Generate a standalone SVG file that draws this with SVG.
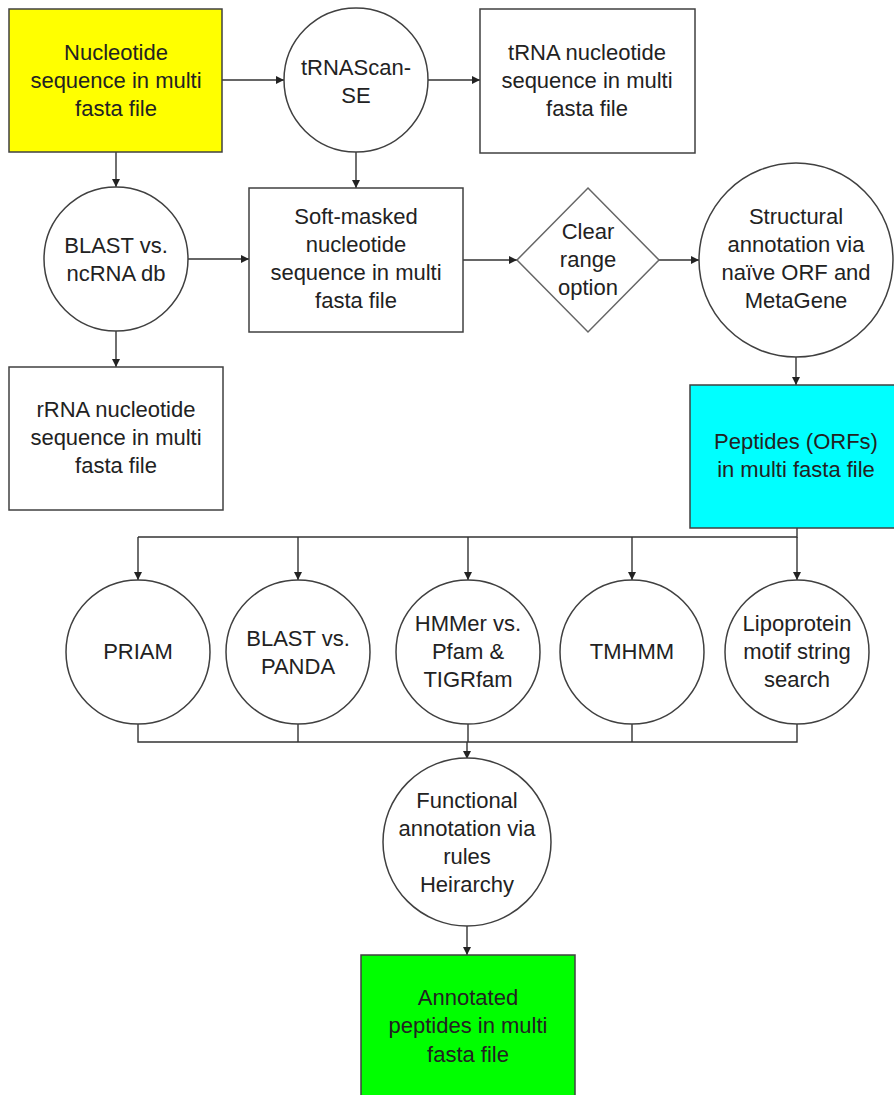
<svg xmlns="http://www.w3.org/2000/svg" width="894" height="1095" viewBox="0 0 894 1095">
<style>
.s{stroke:#404040;stroke-width:1.5;}
.n{fill:#fff;}
text{font-family:"Liberation Sans",Arial,sans-serif;font-size:22px;fill:#222;text-anchor:middle;}
.c{fill:none;stroke:#333;stroke-width:1.4;}
</style>
<defs>
<marker id="a" viewBox="0 0 10 10" refX="10" refY="5" markerWidth="10" markerHeight="8" markerUnits="userSpaceOnUse" orient="auto">
<path d="M0,0 L10,5 L0,10 z" fill="#222"/>
</marker>
</defs>
<rect width="894" height="1095" fill="#fff"/>
<g id="connectors">
<line class="c" x1="222" y1="80" x2="284" y2="80" marker-end="url(#a)"/>
<line class="c" x1="428" y1="80" x2="480" y2="80" marker-end="url(#a)"/>
<line class="c" x1="116" y1="152" x2="116" y2="187" marker-end="url(#a)"/>
<line class="c" x1="356" y1="152" x2="356" y2="188" marker-end="url(#a)"/>
<line class="c" x1="187" y1="259" x2="249" y2="259" marker-end="url(#a)"/>
<line class="c" x1="116" y1="331" x2="116" y2="367" marker-end="url(#a)"/>
<line class="c" x1="462" y1="260" x2="517" y2="260" marker-end="url(#a)"/>
<line class="c" x1="659" y1="260" x2="699" y2="260" marker-end="url(#a)"/>
<line class="c" x1="796" y1="357" x2="796" y2="385" marker-end="url(#a)"/>
<polyline class="c" points="797,528 797,537 138,537"/>
<line class="c" x1="138" y1="537" x2="138" y2="580" marker-end="url(#a)"/>
<line class="c" x1="298" y1="537" x2="298" y2="580" marker-end="url(#a)"/>
<line class="c" x1="468" y1="537" x2="468" y2="580" marker-end="url(#a)"/>
<line class="c" x1="632" y1="537" x2="632" y2="580" marker-end="url(#a)"/>
<line class="c" x1="797" y1="537" x2="797" y2="580" marker-end="url(#a)"/>
<polyline class="c" points="138,724 138,742 797,742 797,724"/>
<line class="c" x1="298" y1="724" x2="298" y2="742"/>
<line class="c" x1="468" y1="724" x2="468" y2="742"/>
<line class="c" x1="632" y1="724" x2="632" y2="742"/>
<line class="c" x1="467" y1="742" x2="467" y2="759" marker-end="url(#a)"/>
<line class="c" x1="467" y1="926" x2="467" y2="955" marker-end="url(#a)"/>
</g>
<g id="nucleotide">
<rect class="s" x="9" y="9" width="213" height="143" fill="#ffff00"/>
<text x="116" y="60">Nucleotide</text>
<text x="116" y="88">sequence in multi</text>
<text x="116" y="116">fasta file</text>
</g>
<g id="trnascan">
<circle class="s n" cx="356" cy="80" r="72"/>
<text x="356" y="75">tRNAScan-</text>
<text x="356" y="103">SE</text>
</g>
<g id="trna">
<rect class="s n" x="480" y="9" width="215" height="144"/>
<text x="587" y="60">tRNA nucleotide</text>
<text x="587" y="88">sequence in multi</text>
<text x="587" y="116">fasta file</text>
</g>
<g id="blast-ncrna">
<circle class="s n" cx="116" cy="259" r="72"/>
<text x="116" y="253">BLAST vs.</text>
<text x="116" y="281">ncRNA db</text>
</g>
<g id="softmasked">
<rect class="s n" x="249" y="188" width="214" height="144"/>
<text x="356" y="224">Soft-masked</text>
<text x="356" y="252">nucleotide</text>
<text x="356" y="280">sequence in multi</text>
<text x="356" y="308">fasta file</text>
</g>
<g id="rrna">
<rect class="s n" x="9" y="367" width="214" height="143"/>
<text x="116" y="417">rRNA nucleotide</text>
<text x="116" y="445">sequence in multi</text>
<text x="116" y="473">fasta file</text>
</g>
<g id="clear-range">
<polygon class="n" points="588,188 659,260 588,332 517,260" stroke="#666" stroke-width="1.5"/>
<text x="588" y="239">Clear</text>
<text x="588" y="267">range</text>
<text x="588" y="295">option</text>
</g>
<g id="structural">
<circle class="s n" cx="796" cy="260" r="97"/>
<text x="796" y="224">Structural</text>
<text x="796" y="252">annotation via</text>
<text x="796" y="280">naïve ORF and</text>
<text x="796" y="308">MetaGene</text>
</g>
<g id="peptides">
<rect class="s" x="690" y="385" width="214" height="143" fill="#00ffff"/>
<text x="796" y="449">Peptides (ORFs)</text>
<text x="796" y="477">in multi fasta file</text>
</g>
<g id="priam">
<circle class="s n" cx="138" cy="652" r="72"/>
<text x="138" y="659">PRIAM</text>
</g>
<g id="blast-panda">
<circle class="s n" cx="298" cy="652" r="72"/>
<text x="298" y="646">BLAST vs.</text>
<text x="298" y="674">PANDA</text>
</g>
<g id="hmmer">
<circle class="s n" cx="468" cy="652" r="72"/>
<text x="468" y="631">HMMer vs.</text>
<text x="468" y="659">Pfam &amp;</text>
<text x="468" y="687">TIGRfam</text>
</g>
<g id="tmhmm">
<circle class="s n" cx="632" cy="652" r="72"/>
<text x="632" y="659">TMHMM</text>
</g>
<g id="lipoprotein">
<circle class="s n" cx="797" cy="652" r="72"/>
<text x="797" y="631">Lipoprotein</text>
<text x="797" y="659">motif string</text>
<text x="797" y="687">search</text>
</g>
<g id="functional">
<circle class="s n" cx="467" cy="842" r="84"/>
<text x="467" y="808">Functional</text>
<text x="467" y="836">annotation via</text>
<text x="467" y="864">rules</text>
<text x="467" y="892">Heirarchy</text>
</g>
<g id="annotated">
<rect class="s" x="361" y="955" width="214" height="145" fill="#00ff00"/>
<text x="468" y="1005">Annotated</text>
<text x="468" y="1033">peptides in multi</text>
<text x="468" y="1062">fasta file</text>
</g>
</svg>
